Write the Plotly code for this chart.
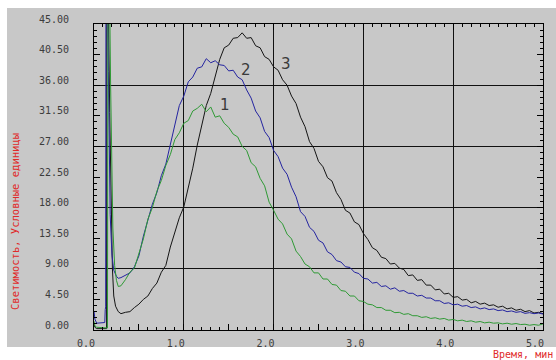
import plotly.graph_objects as go

# ---------------- data ----------------
# common sampling grid for the main part of the curves (min)
time_main = [
    0.30, 0.35, 0.40, 0.45, 0.50, 0.55, 0.60, 0.65, 0.70, 0.75,
    0.80, 0.85, 0.90, 0.95, 1.00, 1.05, 1.10, 1.15, 1.20, 1.25,
    1.30, 1.35, 1.40, 1.45, 1.50, 1.55, 1.60, 1.65, 1.70, 1.75,
    1.80, 1.85, 1.90, 1.95, 2.00, 2.05, 2.10, 2.15, 2.20, 2.25,
    2.30, 2.35, 2.40, 2.45, 2.50, 2.55, 2.60, 2.65, 2.70, 2.75,
    2.80, 2.85, 2.90, 2.95, 3.00, 3.05, 3.10, 3.15, 3.20, 3.25,
    3.30, 3.35, 3.40, 3.45, 3.50, 3.55, 3.60, 3.65, 3.70, 3.75,
    3.80, 3.85, 3.90, 3.95, 4.00, 4.05, 4.10, 4.15, 4.20, 4.25,
    4.30, 4.35, 4.40, 4.45, 4.50, 4.55, 4.60, 4.65, 4.70, 4.75,
    4.80, 4.85, 4.90, 4.95, 5.00,
]

# initial (injection spike) part of each curve
time_pre_1 = [0.0, 0.01, 0.03, 0.10, 0.15, 0.155, 0.175, 0.185, 0.20, 0.21, 0.23, 0.25, 0.27]
lum_pre_1 = [1.3, 0.6, 0.4, 0.3, 0.3, 48.0, 48.0, 36.0, 22.0, 15.0, 9.5, 7.3, 6.4]

time_pre_2 = [0.0, 0.01, 0.03, 0.08, 0.12, 0.125, 0.13, 0.133, 0.15, 0.16, 0.17, 0.18, 0.20, 0.22, 0.25, 0.27]
lum_pre_2 = [2.8, 1.6, 1.0, 1.0, 1.1, 3.0, 3.4, 48.0, 48.0, 38.0, 26.0, 17.0, 11.0, 8.8, 7.9, 7.6]

time_pre_3 = [0.0, 0.01, 0.03, 0.10, 0.14, 0.142, 0.16, 0.175, 0.19, 0.205, 0.22, 0.24, 0.27]
lum_pre_3 = [0.9, 0.4, 0.2, 0.2, 0.2, 48.0, 48.0, 32.0, 18.0, 9.0, 5.0, 3.5, 2.7]

lum_main_1 = [
    6.5, 7.4, 8.5, 9.1, 11.1, 13.4, 16.3, 18.0, 20.4, 22.0,
    24.2, 25.8, 28.0, 29.0, 30.4, 30.8, 32.2, 32.6, 33.2, 32.1,
    32.8, 31.3, 31.5, 30.4, 29.8, 28.8, 28.4, 27.0, 26.4, 24.6,
    24.0, 22.3, 21.2, 18.8, 17.6, 16.3, 15.6, 14.1, 13.4, 11.6,
    10.8, 9.7, 9.3, 8.4, 8.4, 7.5, 7.5, 6.7, 6.6, 5.8,
    5.7, 5.0, 5.0, 4.3, 4.2, 3.8, 3.7, 3.3, 3.3, 2.9,
    2.9, 2.55, 2.6, 2.3, 2.4, 2.1, 2.1, 1.85, 1.95, 1.7,
    1.8, 1.6, 1.7, 1.45, 1.55, 1.35, 1.45, 1.25, 1.35, 1.15,
    1.25, 1.05, 1.15, 1.0, 1.05, 0.9, 1.0, 0.85, 0.95, 0.8,
    0.85, 0.7, 0.8, 0.7, 0.9,
]
lum_main_2 = [
    7.7, 8.1, 8.4, 9.3, 10.9, 13.8, 16.1, 18.5, 20.2, 22.7,
    24.4, 27.2, 29.8, 33.0, 34.4, 36.5, 37.2, 38.5, 38.7, 39.9,
    39.3, 39.6, 39.0, 38.9, 38.1, 38.2, 37.2, 36.8, 35.3, 34.1,
    32.2, 31.2, 29.2, 28.3, 26.4, 25.5, 23.8, 22.9, 21.0, 19.6,
    17.4, 16.7, 15.1, 14.5, 13.2, 12.8, 11.5, 11.1, 10.2, 10.0,
    9.3, 9.2, 8.5, 8.3, 7.6, 7.5, 6.9, 7.0, 6.4, 6.5,
    6.0, 6.2, 5.7, 5.8, 5.4, 5.4, 5.0, 5.1, 4.7, 4.7,
    4.3, 4.3, 3.9, 4.0, 3.7, 3.8, 3.5, 3.6, 3.3, 3.4,
    3.1, 3.25, 3.0, 3.1, 2.85, 2.95, 2.7, 2.8, 2.6, 2.7,
    2.45, 2.55, 2.4, 2.5, 2.35,
]
lum_main_3 = [
    2.4, 2.6, 2.7, 3.3, 3.8, 4.5, 5.0, 6.1, 6.9, 8.5,
    9.5, 12.2, 14.2, 16.5, 18.1, 20.8, 23.8, 27.2, 30.0, 33.0,
    34.8, 37.5, 39.8, 41.5, 41.9, 42.9, 43.0, 43.7, 42.9, 43.0,
    41.8, 41.5, 40.2, 39.8, 38.7, 38.2, 36.8, 36.0, 34.4, 33.3,
    31.3, 29.9, 27.7, 26.7, 24.8, 24.0, 22.4, 21.9, 20.2, 19.2,
    17.6, 17.2, 15.9, 15.5, 14.2, 13.3, 12.1, 11.7, 10.7, 10.5,
    9.7, 9.8, 9.1, 8.9, 8.0, 8.1, 7.3, 7.4, 6.6, 6.6,
    5.9, 6.0, 5.3, 5.4, 4.8, 4.9, 4.4, 4.5, 4.0, 4.2,
    3.8, 3.95, 3.6, 3.7, 3.35, 3.5, 3.1, 3.25, 2.9, 3.05,
    2.7, 2.85, 2.5, 2.6, 2.4,
]

curve_names = ["1", "2", "3"]
curve_label_x = [1.46, 1.69, 2.14]
curve_label_y = [33.1, 38.2, 39.1]

x_tick_vals = [0, 1, 2, 3, 4, 5]
x_tick_text = ["0.0", "1.0", "2.0", "3.0", "4.0", "5.0"]
x_half_vals = [0.5, 1.5, 2.5, 3.5, 4.5]
y_tick_vals = [0, 4.5, 9, 13.5, 18, 22.5, 27, 31.5, 36, 40.5, 45]
y_tick_text = ["0.00", "4.50", "9.00", "13.50", "18.00", "22.50",
               "27.00", "31.50", "36.00", "40.50", "45.00"]
y_grid_vals = [9, 18, 27, 36]

y_title = "Светимость, Условные единицы"
x_title = "Время, мин"

# ---------------- styles ----------------
GRAY = "#c8c8c8"
MONO = "DejaVu Sans Mono"
GRID = "#111111"
colors = {"1": "#2f9a35", "2": "#2424a0", "3": "#151515"}

fig = go.Figure()
series = [
    ("3", time_pre_3 + time_main, lum_pre_3 + lum_main_3),
    ("2", time_pre_2 + time_main, lum_pre_2 + lum_main_2),
    ("1", time_pre_1 + time_main, lum_pre_1 + lum_main_1),
]
for name, xs, ys in series:
    fig.add_trace(go.Scatter(x=xs, y=ys, mode="lines", name=name,
                             line=dict(color=colors[name], width=1),
                             hoverinfo="skip"))

# empty trace to activate the overlay axes (horizontal grid / half ticks)
fig.add_trace(go.Scatter(x=[], y=[], xaxis="x2", yaxis="y2", showlegend=False))

for nm, lx, ly in zip(curve_names, curve_label_x, curve_label_y):
    fig.add_annotation(x=lx, y=ly, text=nm, showarrow=False,
                       font=dict(family="DejaVu Sans", size=15, color="#3a3a3a"))

fig.add_annotation(xref="paper", yref="paper", x=(15 - 94) / 449, y=(330 - 222) / 306,
                   text=y_title, textangle=-90, showarrow=False,
                   xanchor="center", yanchor="middle",
                   font=dict(family=MONO, size=10.5, color="#e02a2a"))
fig.add_annotation(xref="paper", yref="paper", x=(555 - 94) / 449, y=(330 - 347) / 306,
                   text=x_title, showarrow=False, xanchor="right", yanchor="top",
                   font=dict(family=MONO, size=10, color="#e02a2a"))

fig.add_shape(type="rect", xref="paper", yref="paper",
              x0=(7 - 94) / 449, x1=1.2, y0=(330 - 347) / 306, y1=(330 - 8) / 306,
              fillcolor=GRAY, line=dict(width=0), layer="below")

axis_font = dict(family=MONO, size=10, color="#3c3c3c")
fig.update_layout(
    width=556, height=360,
    margin=dict(l=94, r=13, t=24, b=30),
    paper_bgcolor="white", plot_bgcolor=GRAY,
    showlegend=False,
    xaxis=dict(range=[0, 5], tickvals=x_tick_vals, ticktext=x_tick_text,
               ticks="inside", ticklen=6, tickcolor="black", tickwidth=1,
               showgrid=True, gridcolor=GRID, gridwidth=1.2, zeroline=False,
               showline=True, linecolor="black", linewidth=1, mirror="ticks",
               tickfont=axis_font, ticklabelshift=-8, ticklabelstandoff=4,
               minor=dict(dtick=0.1, ticks="inside", ticklen=3,
                          tickcolor="black", showgrid=False)),
    yaxis=dict(range=[0, 45], tickvals=y_tick_vals, ticktext=y_tick_text,
               ticks="inside", ticklen=6, tickcolor="black", tickwidth=1,
               showgrid=False, zeroline=False,
               showline=True, linecolor="black", linewidth=1, mirror="ticks",
               tickfont=axis_font, ticklabelshift=-5, ticklabelstandoff=22,
               minor=dict(dtick=0.9, ticks="inside", ticklen=3,
                          tickcolor="black", showgrid=False)),
    xaxis2=dict(range=[0, 5], overlaying="x", anchor="y", tickvals=x_half_vals,
                ticks="inside", ticklen=6, tickcolor="black",
                showticklabels=False, showgrid=False, zeroline=False, showline=False),
    yaxis2=dict(range=[0, 45], overlaying="y", anchor="x", tickvals=y_grid_vals,
                ticks="", showticklabels=False, showgrid=True, gridcolor=GRID,
                gridwidth=1.2, zeroline=False, showline=False),
)

fig.write_html("out.html")
